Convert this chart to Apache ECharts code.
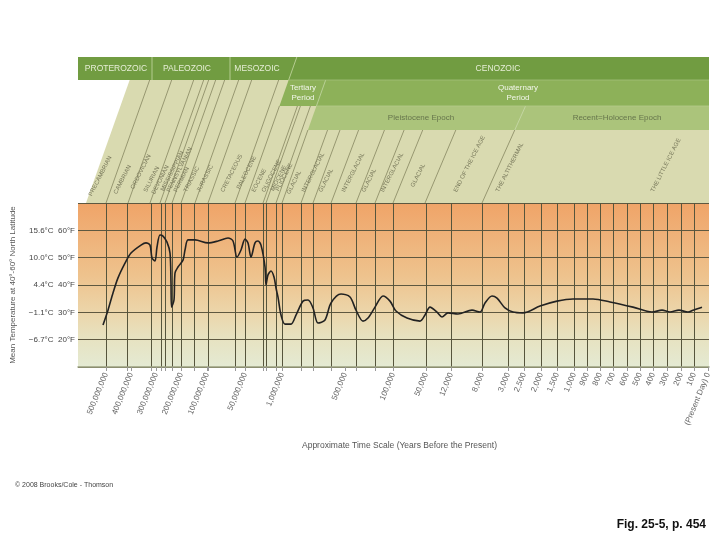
<!DOCTYPE html>
<html><head><meta charset="utf-8">
<script src="https://cdn.jsdelivr.net/npm/echarts@6/dist/echarts.min.js"></script>
<style>html,body{margin:0;padding:0;background:#fff}#c{width:720px;height:540px}</style>
</head><body><div id="c"></div>
<script>
// ---------- data ----------
const AXIS_MAX = 631; // axis length in scale units (non-linear time axis)
const tickLabels = ['500,000,000','400,000,000','300,000,000','200,000,000','100,000,000','50,000,000','1,000,000','500,000','100,000','50,000','12,000','8,000','3,000','2,500','2,000','1,500','1,000','900','800','700','600','500','400','300','200','100','(Present Day) 0'];
const tickPos = [28,53,78,103,129,167,204,267,315,348,373,404,430,446,463,479,496,509,522,535,549,562,575,589,603,616,630];
const boundaryPos = [28,49,73,83,87,94,103,116,130,157,167,185,188,198,204,223,235,253,278,297,315,348,373,404,430,446,463,479,496,509,522,535,549,562,575,589,603,616];
const dividerPos = [8,28,50,72,82,87,94,103,117,130,157,167,185,188,198,204,223,235,253,278,297,315,347,404];
const yTicksF = [20,30,40,50,60];
const yTicksC = ['\u22126.7\u00b0C','\u22121.1\u00b0C','4.4\u00b0C','10.0\u00b0C','15.6\u00b0C'];
const tempCurve = [[25,25.4],[30,30.8],[35,37.1],[40,42.6],[47,48.0],[53,51.7],[63,54.6],[68,55.4],[72,54.6],[74,49.9],[77,48.8],[79,53.9],[82,58.3],[85,57.9],[89,55.7],[92,51.7],[93,40.7],[93.5,31.9],[96,34.5],[97,44.4],[100,46.6],[105,49.1],[107,52.8],[110,56.5],[117,56.5],[130,55.4],[140,56.1],[150,57.2],[155,56.1],[159,50.2],[163,52.8],[167,56.8],[170,55.4],[173,50.2],[177,55.4],[180,56.1],[183,54.6],[187,46.6],[188,40.0],[190,43.7],[193,45.1],[196,42.9],[198,38.9],[200,35.6],[203,29.0],[207,25.7],[213,25.7],[218,29.0],[225,34.1],[230,34.5],[235,31.6],[240,26.1],[247,27.2],[253,33.4],[263,36.7],[272,35.6],[278,30.8],[285,26.8],[290,27.9],[297,31.9],[305,36.0],[312,34.1],[318,30.5],[329,27.9],[342,26.8],[347,29.0],[352,31.9],[359,30.1],[364,28.3],[370,29.8],[380,29.4],[394,30.8],[402,30.1],[407,33.4],[414,36.0],[419,35.2],[427,31.6],[435,30.1],[445,29.8],[462,32.3],[479,34.1],[495,34.9],[515,34.9],[532,33.8],[555,31.9],[574,30.1],[584,30.8],[592,30.1],[601,30.8],[610,30.1],[615,30.8],[624,31.9]];
const eraNames = ['PROTEROZOIC','PALEOZOIC','MESOZOIC','CENOZOIC'];
const eraCenter = [38,109,179,420];
const periodBandNames = ['Tertiary\nPeriod','Quaternary\nPeriod'];
const periodBandCenter = [225,440];
const epochNames = ['Pleistocene Epoch','Recent=Holocene Epoch'];
const epochCenter = [343,539];
const periodNames = ['PRECAMBRIAN','CAMBRIAN','ORDOVICIAN','SILURIAN','DEVONIAN','MISSISSIPPIAN','PENNSYLVANIAN','PERMIAN','TRIASSIC','JURASSIC','CRETACEOUS','PALEOCENE','EOCENE','OLIGOCENE','MIOCENE','PLIOCENE','GLACIAL','INTERGLACIAL','GLACIAL','INTERGLACIAL','GLACIAL','INTERGLACIAL','GLACIAL','END OF THE ICE AGE','THE ALTITHERMAL','THE LITTLE ICE AGE'];
const periodAnchorU = [15,40,57,70,78,87,93,100,110,123,147,163,178,188,197,202,213,228,245,268,288,307,337,380,422,577];
const periodAnchorV = [6,8,13,10,8,11,10,10,10,10,10,13,10,10,11,11,8,10,10,10,10,10,15,10,10,10];

// ---------- build ----------
const FONT = 'Liberation Sans, Arial, sans-serif';
const cats = [];
const labelSet = new Set(tickPos), gridSet = new Set(boundaryPos), tickSet = new Set(tickPos.concat(boundaryPos));
for (let i = 0; i <= AXIS_MAX; i++) { const k = tickPos.indexOf(i); cats.push(k >= 0 ? tickLabels[k] : ''); }

function slope(u){ return u <= 204 ? 0.355 : 0.355 + (u - 204) * 0.00047; }
function lineU(u0, v){ return u0 + slope(u0) * v; }
const V_ERA = 123, V_TOP = 146, V_PER = 97, V_EPO = 73;

function renderDiagram(params, api){
  const P = (u, v) => api.coord([u, v]);
  const ch = [];
  const poly = (pts, fill) => ch.push({type:'polygon', shape:{points:pts}, style:{fill:fill}});
  const seg = (a, b, col, w) => ch.push({type:'line', shape:{x1:a[0],y1:a[1],x2:b[0],y2:b[1]}, style:{stroke:col, lineWidth:w}});
  poly([P(8,0), P(lineU(8,V_ERA),V_ERA), P(AXIS_MAX,V_ERA), P(AXIS_MAX,0)], '#d9dab0');
  poly([P(0,V_ERA), P(0,V_TOP), P(AXIS_MAX,V_TOP), P(AXIS_MAX,V_ERA)], '#719c41');
  poly([P(lineU(167,V_PER),V_PER), P(lineU(167,V_ERA),V_ERA), P(AXIS_MAX,V_ERA), P(AXIS_MAX,V_PER)], '#8db159');
  poly([P(lineU(204,V_EPO),V_EPO), P(lineU(204,V_PER),V_PER), P(AXIS_MAX,V_PER), P(AXIS_MAX,V_EPO)], '#abc47b');
  const sepCol = '#b5cc90';
  seg(P(74,V_ERA), P(74,V_TOP), sepCol, 1);
  seg(P(152,V_ERA), P(152,V_TOP), sepCol, 1);
  seg(P(lineU(167,V_ERA),V_ERA), P(lineU(167,V_TOP),V_TOP), sepCol, 1);
  seg(P(lineU(204,V_PER),V_PER), P(lineU(204,V_ERA),V_ERA), '#b9d096', 1);
  seg(P(lineU(404,V_EPO),V_EPO), P(lineU(404,V_PER),V_PER), '#c4d6a2', 1);
  seg(P(lineU(167,V_ERA),V_ERA), P(AXIS_MAX,V_ERA), '#a4c07c', 0.8);
  seg(P(lineU(204,V_PER),V_PER), P(AXIS_MAX,V_PER), '#b6cc8e', 0.8);
  dividerPos.forEach(u0 => {
    if (u0 === 8) return;
    const vt = u0 < 167 ? V_ERA : (u0 < 204 ? V_PER : V_EPO);
    seg(P(u0,0), P(lineU(u0,vt),vt), '#7a7a55', 0.7);
  });
  eraNames.forEach((n,i) => { const p = P(eraCenter[i], (V_ERA+V_TOP)/2);
    ch.push({type:'text', x:p[0], y:p[1], style:{text:n, fill:'#e6eed6', fontSize:8.5, fontFamily:FONT, align:'center', verticalAlign:'middle'}}); });
  periodBandNames.forEach((n,i) => { const p = P(periodBandCenter[i], (V_PER+V_ERA)/2);
    ch.push({type:'text', x:p[0], y:p[1], style:{text:n, fill:'#f2f6ea', fontSize:8, lineHeight:10, fontFamily:FONT, align:'center', verticalAlign:'middle'}}); });
  epochNames.forEach((n,i) => { const p = P(epochCenter[i], (V_EPO+V_PER)/2);
    ch.push({type:'text', x:p[0], y:p[1], style:{text:n, fill:'#66754c', fontSize:8, fontFamily:FONT, align:'center', verticalAlign:'middle'}}); });
  periodNames.forEach((n,i) => { const p = P(periodAnchorU[i], periodAnchorV[i]);
    ch.push({type:'text', x:p[0], y:p[1], rotation:63*Math.PI/180, style:{text:n, x:0, y:0, fill:'#77775a', fontSize:6, fontFamily:FONT, align:'left', verticalAlign:'bottom'}}); });
  return {type:'group', children:ch};
}

const chart = echarts.init(document.getElementById('c'));
chart.setOption({
  animation:false,
  backgroundColor:'#ffffff',
  title:[
    {text:'Approximate Time Scale (Years Before the Present)', left:297, top:436, textStyle:{fontSize:8.5, fontWeight:'normal', color:'#555', fontFamily:FONT}},
    {text:'\u00a9 2008 Brooks/Cole - Thomson', left:10, top:477, textStyle:{fontSize:7, fontWeight:'normal', color:'#444', fontFamily:FONT}},
    {text:'Fig. 25-5, p. 454', right:9, top:514, textStyle:{fontSize:12, fontWeight:'bold', color:'#111', fontFamily:'Liberation Sans Narrow, Liberation Sans, Arial, sans-serif'}}
  ],
  grid:[
    {left:78, right:11, top:203, height:164, show:true, borderWidth:0,
     backgroundColor:{type:'linear', x:0, y:0, x2:0, y2:1, colorStops:[
       {offset:0, color:'#f0a468'},{offset:0.45, color:'#eec38e'},{offset:0.65, color:'#ecd4a8'},{offset:0.82, color:'#e7e2c0'},{offset:1, color:'#e4ead3'}]}},
    {left:78, right:11, top:57, height:146}
  ],
  xAxis:[
    {type:'category', gridIndex:0, data:cats, boundaryGap:false,
     axisLine:{show:true, lineStyle:{color:'#9aa080', width:1.5}},
     axisTick:{show:true, interval:(i)=>tickSet.has(i), length:4, lineStyle:{color:'#999'}},
     axisLabel:{interval:(i)=>labelSet.has(i), rotate:68, fontSize:8, color:'#666', fontFamily:FONT, margin:6},
     splitLine:{show:true, interval:(i)=>gridSet.has(i), lineStyle:{color:'#56553c', width:1}}},
    {type:'value', gridIndex:0, min:0, max:AXIS_MAX, show:false},
    {type:'value', gridIndex:1, min:0, max:AXIS_MAX, show:false}
  ],
  yAxis:[
    {type:'value', gridIndex:0, min:10, max:70, interval:10,
     name:'Mean Temperature at 40\u00b0-60\u00b0 North Latitude', nameLocation:'middle', nameGap:61,
     nameTextStyle:{fontSize:8, color:'#555', fontFamily:FONT},
     axisLine:{show:false}, axisTick:{show:false},
     axisLabel:{fontSize:8, color:'#444', fontFamily:FONT, margin:3,
       formatter:(v)=>{const k = yTicksF.indexOf(v); return k < 0 ? '' : yTicksC[k] + '  ' + v + '\u00b0F';}},
     splitLine:{show:true, lineStyle:{color:'#5e5840', width:1}}},
    {type:'value', gridIndex:1, min:0, max:146, show:false}
  ],
  series:[
    {type:'custom', xAxisIndex:2, yAxisIndex:1, data:[[0,0]], renderItem:renderDiagram, silent:true, z:1},
    {type:'line', xAxisIndex:1, yAxisIndex:0, data:tempCurve, smooth:0.3, showSymbol:false,
     lineStyle:{color:'#222', width:1.6}, silent:true, z:5}
  ]
});
</script></body></html>
